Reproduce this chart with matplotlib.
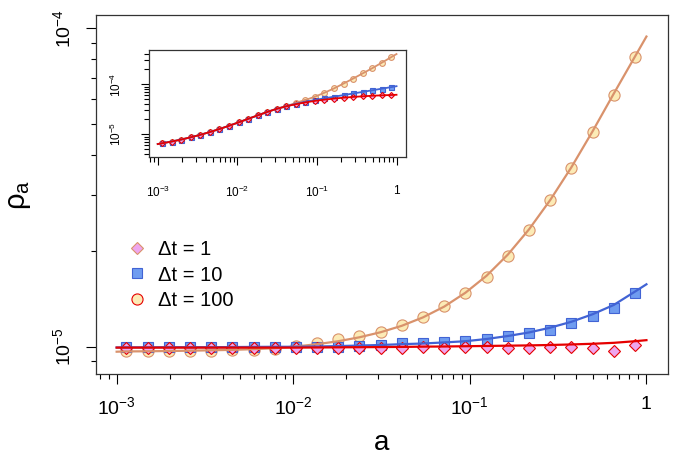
import matplotlib.pyplot as plt
from matplotlib.lines import Line2D
from matplotlib.ticker import LogLocator, NullFormatter

plt.rcParams['font.family'] = ['Liberation Sans', 'DejaVu Sans']
plt.rcParams['mathtext.fontset'] = 'custom'
plt.rcParams['mathtext.rm'] = 'Liberation Sans'
plt.rcParams['mathtext.it'] = 'Liberation Sans:italic'

# valores de a (mismos para todas las series)
a_vals = [0.001135, 0.001496, 0.001972, 0.002600, 0.003428, 0.004519, 0.005957, 0.007852,
          0.01035, 0.01365, 0.01799, 0.02371, 0.03126, 0.04121, 0.05433, 0.07161,
          0.09441, 0.1245, 0.1641, 0.2163, 0.2851, 0.3758, 0.4955, 0.6531, 0.8610]
a_fit = [0.001] + a_vals + [1.0]

# panel principal, rho_a en unidades de 1e-5
rho_dt1 = [0.993] * 14 + [1.000, 0.988, 1.000, 1.000, 0.993, 0.993, 1.000, 1.000,
                          0.993, 0.971, 1.012]
rho_dt10 = [0.998] * 10 + [1.001, 1.005, 1.015, 1.027, 1.025, 1.035, 1.038, 1.057,
                           1.083, 1.106, 1.128, 1.184, 1.249, 1.320, 1.472]
rho_dt100 = [0.972] * 5 + [0.976, 0.976, 0.983, 1.005, 1.027, 1.055, 1.083, 1.115,
                           1.170, 1.240, 1.342, 1.472, 1.655, 1.931, 2.326, 2.884,
                           3.641, 4.724, 6.186, 8.126]

fit_dt1 = [0.993] * 10 + [0.994, 0.995, 0.996, 0.997, 0.998, 1.000, 1.001, 1.003,
                          1.005, 1.007, 1.009, 1.012, 1.016, 1.021, 1.028, 1.040, 1.048]
fit_dt10 = [0.994, 0.995, 0.995, 0.996, 0.996, 0.996, 0.997, 0.998, 0.999, 0.999,
            1.001, 1.004, 1.008, 1.012, 1.018, 1.023, 1.031, 1.040, 1.057, 1.080,
            1.108, 1.147, 1.197, 1.264, 1.352, 1.489, 1.570]
fit_dt100 = [0.964, 0.966, 0.967, 0.969, 0.971, 0.974, 0.977, 0.982, 0.989, 1.001,
             1.018, 1.040, 1.070, 1.110, 1.163, 1.236, 1.336, 1.477, 1.671, 1.946,
             2.336, 2.887, 3.660, 4.749, 6.236, 8.154, 9.426]

# inset, en unidades de 1e-6
ins_common = [6.61, 7.16, 7.85, 8.71, 9.77, 11.09, 12.74, 14.79, 17.30, 20.32,
              23.88, 27.93, 32.36, 36.31]
ins_dt1 = ins_common + [39.99, 43.45, 46.56, 49.32, 51.76, 53.95, 55.85, 57.54,
                        59.02, 60.12, 61.09]
ins_dt10 = ins_common + [40.7, 44.7, 48.5, 52.5, 56.5, 60.8, 65.5, 70.5, 75.9,
                         81.7, 87.9]
ins_dt100 = ins_common + [42.66, 48.53, 56.5, 67.9, 82.8, 103.5, 130.3, 165.2,
                          209.9, 270.4, 350.8]
ins_fit_dt1 = [6.38] + ins_dt1 + [61.7]
ins_fit_dt10 = [6.38] + ins_dt10 + [91.6]
ins_fit_dt100 = [6.38] + ins_dt100 + [402.7]

labels = ['\u0394t = 1', '\u0394t = 10', '\u0394t = 100']

TAN = '#D9926C'
BLUE = '#4163D4'
RED = '#E50000'
PINK = '#EEA6EE'
LBLUE = '#6F9CF0'
CREAM = '#FCEBB6'


def style_log_axis(ax, size, major_len, minor_len):
    for sp in ax.spines.values():
        sp.set_color('#333333')
        sp.set_linewidth(0.9)
    ax.xaxis.set_minor_locator(LogLocator(base=10, subs=range(2, 10), numticks=30))
    ax.yaxis.set_minor_locator(LogLocator(base=10, subs=range(2, 10), numticks=30))
    ax.xaxis.set_minor_formatter(NullFormatter())
    ax.yaxis.set_minor_formatter(NullFormatter())
    ax.tick_params(which='major', length=major_len, width=0.8, labelsize=size)
    ax.tick_params(which='minor', length=minor_len, width=0.8)


def draw_series(ax, scale, pts, fits, ms, lw):
    d1, d10, d100 = pts
    f1, f10, f100 = fits
    ax.plot(a_vals, [v * scale for v in d100], 'o', ms=ms * 1.15, mfc=CREAM, mec=TAN, mew=0.8)
    ax.plot(a_vals, [v * scale for v in d10], 's', ms=ms, mfc=LBLUE, mec=BLUE, mew=0.8)
    ax.plot(a_vals, [v * scale for v in d1], 'D', ms=ms * 0.85, mfc=PINK, mec=RED, mew=0.8)
    ax.plot(a_fit, [v * scale for v in f100], '-', color=TAN, lw=lw)
    ax.plot(a_fit, [v * scale for v in f10], '-', color=BLUE, lw=lw)
    ax.plot(a_fit, [v * scale for v in f1], '-', color=RED, lw=lw)


fig = plt.figure(figsize=(6.75, 4.63), dpi=100)
ax = fig.add_axes([0.1422, 0.1922, 0.8474, 0.7754])
ax.set_xscale('log')
ax.set_yscale('log')
draw_series(ax, 1e-5, (rho_dt1, rho_dt10, rho_dt100),
            (fit_dt1, fit_dt10, fit_dt100), ms=7, lw=1.6)
ax.set_xlim(10 ** -3.117, 10 ** 0.122)
ax.set_ylim(10 ** -5.086, 10 ** -3.958)
style_log_axis(ax, 14, 7, 3.8)
ax.set_xticks([1e-3, 1e-2, 1e-1, 1])
ax.set_xticklabels([r'$10^{-3}$', r'$10^{-2}$', r'$10^{-1}$', '1'])
ax.set_yticks([1e-5, 1e-4])
ax.set_yticklabels([r'$10^{-5}$', r'$10^{-4}$'])
ax.tick_params(axis='x', which='major', pad=9)
ax.tick_params(axis='y', which='major', pad=9, labelrotation=90)
for lab in ax.get_yticklabels():
    lab.set_va('center')
ax.set_xlabel('a', fontsize=20)
ax.xaxis.set_label_coords(0.5, -0.155)
ax.set_ylabel('$\\mathrm{\u03c1}_\\mathrm{a}$', fontsize=21)
ax.yaxis.set_label_coords(-0.11, 0.5)

handles = [
    Line2D([], [], ls='none', marker='D', ms=6, mfc=PINK, mec=TAN, mew=0.8),
    Line2D([], [], ls='none', marker='s', ms=7, mfc=LBLUE, mec=BLUE, mew=0.8),
    Line2D([], [], ls='none', marker='o', ms=8, mfc=CREAM, mec=RED, mew=0.8),
]
ax.legend(handles, labels, loc='upper left', bbox_to_anchor=(0.04, 0.396),
          frameon=False, fontsize=14.5, handlelength=1.0, handletextpad=0.55,
          labelspacing=0.33, borderaxespad=0)

# inset
axi = fig.add_axes([0.2207, 0.6603, 0.3803, 0.2317])
axi.set_xscale('log')
axi.set_yscale('log')
draw_series(axi, 1e-6, (ins_dt1, ins_dt10, ins_dt100),
            (ins_fit_dt1, ins_fit_dt10, ins_fit_dt100), ms=3.6, lw=1.3)
axi.set_xlim(10 ** -3.11, 10 ** 0.115)
axi.set_ylim(10 ** -5.46, 10 ** -3.314)
style_log_axis(axi, 8.5, 6, 3.5)
axi.set_xticks([1e-3, 1e-2, 1e-1, 1])
axi.set_xticklabels([r'$10^{-3}$', r'$10^{-2}$', r'$10^{-1}$', '1'])
axi.set_yticks([1e-5, 1e-4])
axi.set_yticklabels([r'$10^{-5}$', r'$10^{-4}$'])
axi.tick_params(axis='x', which='major', pad=14)
axi.tick_params(axis='y', which='major', pad=12, labelrotation=90)
for lab in axi.get_yticklabels():
    lab.set_va('center')

fig.savefig('out.png', dpi=100)
